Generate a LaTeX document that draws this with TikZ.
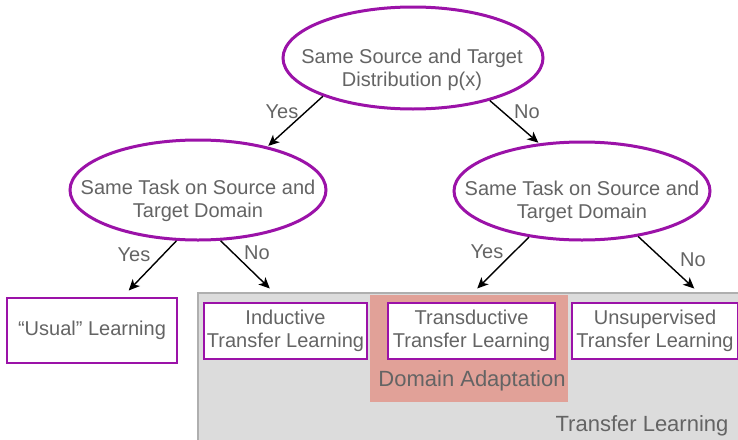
\documentclass[tikz,border=0pt]{standalone}
\usepackage{fontspec}
\setmainfont{Liberation Sans}
\usetikzlibrary{arrows.meta,shapes.geometric}
\definecolor{treePurple}{RGB}{155,18,168}
\definecolor{treeText}{RGB}{100,100,100}
\definecolor{areaGray}{RGB}{220,220,220}
\definecolor{edgeGray}{RGB}{175,175,175}
\definecolor{adaptRed}{RGB}{225,161,152}

\begin{document}
\begin{tikzpicture}[
      x=1pt, y=-1pt,
      >={Stealth[length=11pt,width=10pt,inset=3pt]},
      font=\fontsize{20}{23}\selectfont,
      text=treeText
    ]

    \tikzstyle{question} = [ellipse, draw=treePurple, line width=3pt, inner sep=0pt, fill=white]
    \tikzstyle{qtext} = [align=center, inner sep=0pt]
    \tikzstyle{leaf} = [rectangle, draw=treePurple, line width=1.6pt, fill=white, align=center, inner sep=0pt]
    \tikzstyle{area} = [rectangle, anchor=north west, inner sep=0pt, outer sep=0pt]
    \tikzstyle{answer} = [inner sep=0pt]
    \tikzstyle{bigtext} = [inner sep=0pt, font=\fontsize{22}{26}\selectfont]
    \tikzstyle{arrow} = [->, line width=1.4pt, shorten >=1pt]

    \useasboundingbox (0,0) rectangle (738,439);

    % shaded regions
    \node [area, fill=areaGray, minimum width=560pt, minimum height=160pt] (transferArea) at (198,293) {};
    \draw [edgeGray, line width=1.5pt] (transferArea.south west) -- (transferArea.north west) -- (transferArea.north east);
    \node [area, fill=adaptRed, minimum width=198pt, minimum height=107pt] (adaptArea) at (370,295) {};
    \node [bigtext] (adaptText) at (472,381) {Domain Adaptation};
    \node [bigtext] (transferText) at (642,426) {Transfer Learning};

    % questions
    \node [question, minimum width=260pt, minimum height=102pt] (sameDist) at (413,58) {};
    \node [qtext] (sameDistText) at (412,69.5) {Same Source and Target\\Distribution p(x)};
    \node [question, minimum width=256pt, minimum height=100pt] (taskLeft) at (198,190) {};
    \node [qtext] (taskLeftText) at (198,201) {Same Task on Source and\\Target Domain};
    \node [question, minimum width=256pt, minimum height=98pt] (taskRight) at (582,191) {};
    \node [qtext] (taskRightText) at (582,202) {Same Task on Source and\\Target Domain};

    % outcomes
    \node [leaf, minimum width=170pt, minimum height=65pt] (usual) at (92,330.5) {``Usual'' Learning};
    \node [leaf, minimum width=163pt, minimum height=56pt] (inductive) at (285.5,331) {Inductive\\Transfer Learning};
    \node [leaf, minimum width=167pt, minimum height=56pt] (transductive) at (471.5,331) {Transductive\\Transfer Learning};
    \node [leaf, minimum width=166pt, minimum height=56pt] (unsupervised) at (655,331) {Unsupervised\\Transfer Learning};

    % decisions
    \draw [arrow] (sameDist.203) -- (taskLeft.32);
    \draw [arrow] (sameDist.331) -- (taskRight.132);
    \draw [arrow] (taskLeft.247) -- ([xshift=36pt,yshift=6pt]usual.north);
    \draw [arrow] (taskLeft.294) -- ([xshift=-15pt,yshift=13pt]inductive.north);
    \draw [arrow] (taskRight.221) -- ([xshift=5pt,yshift=13pt]transductive.north);
    \draw [arrow] (taskRight.321) -- ([xshift=40pt,yshift=13pt]unsupervised.north);

    \node [answer] (yesTop) at (282,112) {Yes};
    \node [answer] (noTop) at (527,112) {No};
    \node [answer] (yesLeft) at (134,255) {Yes};
    \node [answer] (noLeft) at (257,253) {No};
    \node [answer] (yesRight) at (487,252) {Yes};
    \node [answer] (noRight) at (693,260) {No};

\end{tikzpicture}
\end{document}
